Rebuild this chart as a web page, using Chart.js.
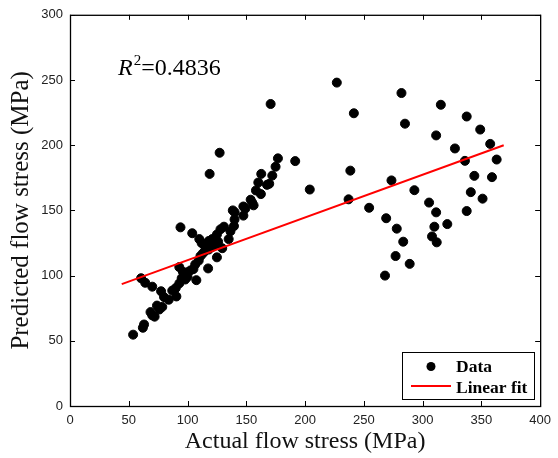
<!DOCTYPE html>
<html lang="en">
<head>
<meta charset="UTF-8">
<title>Actual vs predicted flow stress</title>
<script src="https://cdn.jsdelivr.net/npm/chart.js"></script>
<style>
  body { margin: 0; background: #fff; }
  #wrap { width: 558px; height: 458px; }
</style>
</head>
<body>
<div id="wrap"><canvas id="fitChart" width="558" height="458"></canvas></div>
<script>
// measured points (MPa)
const actualStress = [
  53.7, 62, 63, 60.5, 64, 70, 77.5, 68.5, 70, 72, 74, 78.5, 76, 80, 84, 90.5, 87, 90,
  93, 94, 93, 95, 97, 98, 96, 100, 102.5, 107.5, 104, 106.5, 109.5, 111, 113, 110, 112,
  114.5, 117.5, 118, 121, 123.5, 125, 125, 128, 131, 129.5, 135, 136.5, 139.5, 138.5,
  140, 147.5, 147.5, 155, 118, 115, 121, 126, 105, 100,
  170.7, 127.3, 118.8, 176.9, 191.6, 162.7, 172.1, 174.9, 160.2, 169.5, 167.6, 158.2,
  162.4, 153.7, 156.2, 149.2, 140.1,
  227, 241.5, 282, 285, 315.5, 337.5, 311.5, 349, 357.5, 327.5, 336, 363, 238.5, 204,
  273.5, 344, 359, 237, 293, 341, 305.5, 351, 254.5, 311.5, 337.5, 269, 278, 283.5,
  277, 289, 268, 310, 308, 312, 321
];
const predictedStress = [
  54.7, 60, 62.5, 98, 94.5, 91.5, 88, 72, 69.5, 68.5, 77, 76, 74, 83.5, 81.5, 84, 88.5, 90.5,
  94, 137, 106.5, 98, 101, 97, 103, 102.5, 104, 96.5, 132.5, 108.5, 111.5, 115, 117, 128, 125,
  123, 105.5, 126.5, 128, 124, 114, 131.5, 135.5, 137.5, 121, 128, 134, 138, 150,
  143, 146, 153, 156, 120, 119, 122, 126, 105, 99,
  231.6, 194.2, 178, 189.9, 187.8, 178, 176.7, 183.5, 171.4, 170.4, 169.6, 165.3,
  162.5, 158.2, 153.9, 151.4, 148.6,
  248, 224.5, 240, 216.5, 231, 222, 207.5, 212, 201, 197.5, 188, 189, 180.5, 166,
  173, 176.5, 175.5, 158.5, 165.5, 164, 156, 159, 152, 148.5, 149.5, 144, 136, 126,
  115, 109, 100, 137.5, 130, 125.5, 139.5
];
// ends of the fitted line
const fitX = [44, 369];
const fitY = [93.5, 200];
const xTicks = [0, 50, 100, 150, 200, 250, 300, 350, 400];
const yTicks = [0, 50, 100, 150, 200, 250, 300];
const rSquared = '0.4836';

const scatterPts = actualStress.map((v, i) => ({ x: v, y: predictedStress[i] }));
const fitPts = fitX.map((v, i) => ({ x: v, y: fitY[i] }));

// box around the axes + inward ticks, R^2 note and legend
const matlabFrame = {
  id: 'matlabFrame',
  afterDraw(chart) {
    const ctx = chart.ctx;
    const a = chart.chartArea;
    const xs = chart.scales.x, ys = chart.scales.y;
    const tl = 5;
    ctx.save();
    ctx.strokeStyle = '#000';
    ctx.lineWidth = 1;
    ctx.beginPath();
    xTicks.forEach(t => {
      const px = Math.round(xs.getPixelForValue(t)) + 0.5;
      ctx.moveTo(px, a.bottom); ctx.lineTo(px, a.bottom - tl);
      ctx.moveTo(px, a.top); ctx.lineTo(px, a.top + tl);
    });
    yTicks.forEach(t => {
      const py = Math.round(ys.getPixelForValue(t)) + 0.5;
      ctx.moveTo(a.left, py); ctx.lineTo(a.left + tl, py);
      ctx.moveTo(a.right, py); ctx.lineTo(a.right - tl, py);
    });
    ctx.stroke();
    ctx.lineWidth = 1.3;
    ctx.strokeRect(a.left + 0.5, a.top + 0.5, a.right - a.left, a.bottom - a.top);

    // R^2 note
    ctx.fillStyle = '#000';
    ctx.textBaseline = 'alphabetic';
    let tx = 118, ty = 75;
    ctx.font = 'italic 24px "Liberation Serif"';
    ctx.fillText('R', tx, ty);
    tx += ctx.measureText('R').width + 1;
    ctx.font = '15px "Liberation Serif"';
    ctx.fillText('2', tx, ty - 10);
    tx += ctx.measureText('2').width;
    ctx.font = '24px "Liberation Serif"';
    ctx.fillText('=' + rSquared, tx, ty);

    // legend
    const lx = 402.5, ly = 352.5, lw = 132, lh = 47;
    ctx.fillStyle = '#fff';
    ctx.fillRect(lx, ly, lw, lh);
    ctx.lineWidth = 1;
    ctx.strokeStyle = '#000';
    ctx.strokeRect(lx, ly, lw, lh);
    ctx.fillStyle = '#000';
    ctx.beginPath();
    ctx.arc(431, 366.5, 4.5, 0, Math.PI * 2);
    ctx.fill();
    ctx.strokeStyle = '#ff0000';
    ctx.lineWidth = 2;
    ctx.beginPath();
    ctx.moveTo(411, 386); ctx.lineTo(451, 386);
    ctx.stroke();
    ctx.fillStyle = '#000';
    ctx.font = 'bold 17.5px "Liberation Serif"';
    ctx.fillText('Data', 456, 372);
    ctx.fillText('Linear fit', 456, 393);
    ctx.restore();
  }
};

new Chart(document.getElementById('fitChart'), {
  type: 'scatter',
  data: {
    datasets: [
      {
        label: 'Linear fit',
        data: fitPts,
        showLine: true,
        borderColor: '#ff0000',
        borderWidth: 2,
        pointRadius: 0,
        order: 0
      },
      {
        label: 'Data',
        data: scatterPts,
        backgroundColor: '#000',
        borderColor: '#000',
        pointRadius: 4.5,
        pointHoverRadius: 4.5,
        order: 1
      }
    ]
  },
  options: {
    responsive: false,
    animation: false,
    devicePixelRatio: 1,
    layout: { padding: { top: 10, right: 17, left: 0, bottom: 0 } },
    plugins: { legend: { display: false }, tooltip: { enabled: false } },
    scales: {
      x: {
        type: 'linear',
        min: 0,
        max: 400,
        afterFit(scale) { scale.height = 52; },
        afterBuildTicks(scale) { scale.ticks = xTicks.map(v => ({ value: v })); },
        grid: { display: false, drawTicks: false },
        border: { display: false },
        ticks: { padding: 7, color: '#222', font: { family: '"Liberation Sans"', size: 13 } },
        title: {
          display: true,
          text: 'Actual flow stress (MPa)',
          color: '#111',
          padding: { top: 0, bottom: 2 },
          font: { family: '"Liberation Serif"', size: 24 }
        }
      },
      y: {
        type: 'linear',
        min: 0,
        max: 300,
        afterFit(scale) { scale.width = 70; },
        afterBuildTicks(scale) { scale.ticks = yTicks.map(v => ({ value: v })); },
        grid: { display: false, drawTicks: false },
        border: { display: false },
        ticks: { padding: 7, color: '#222', font: { family: '"Liberation Sans"', size: 13 } },
        title: {
          display: true,
          text: 'Predicted flow stress (MPa)',
          color: '#111',
          padding: { top: 6, bottom: 0 },
          font: { family: '"Liberation Serif"', size: 25 }
        }
      }
    }
  },
  plugins: [matlabFrame]
});
</script>
</body>
</html>
